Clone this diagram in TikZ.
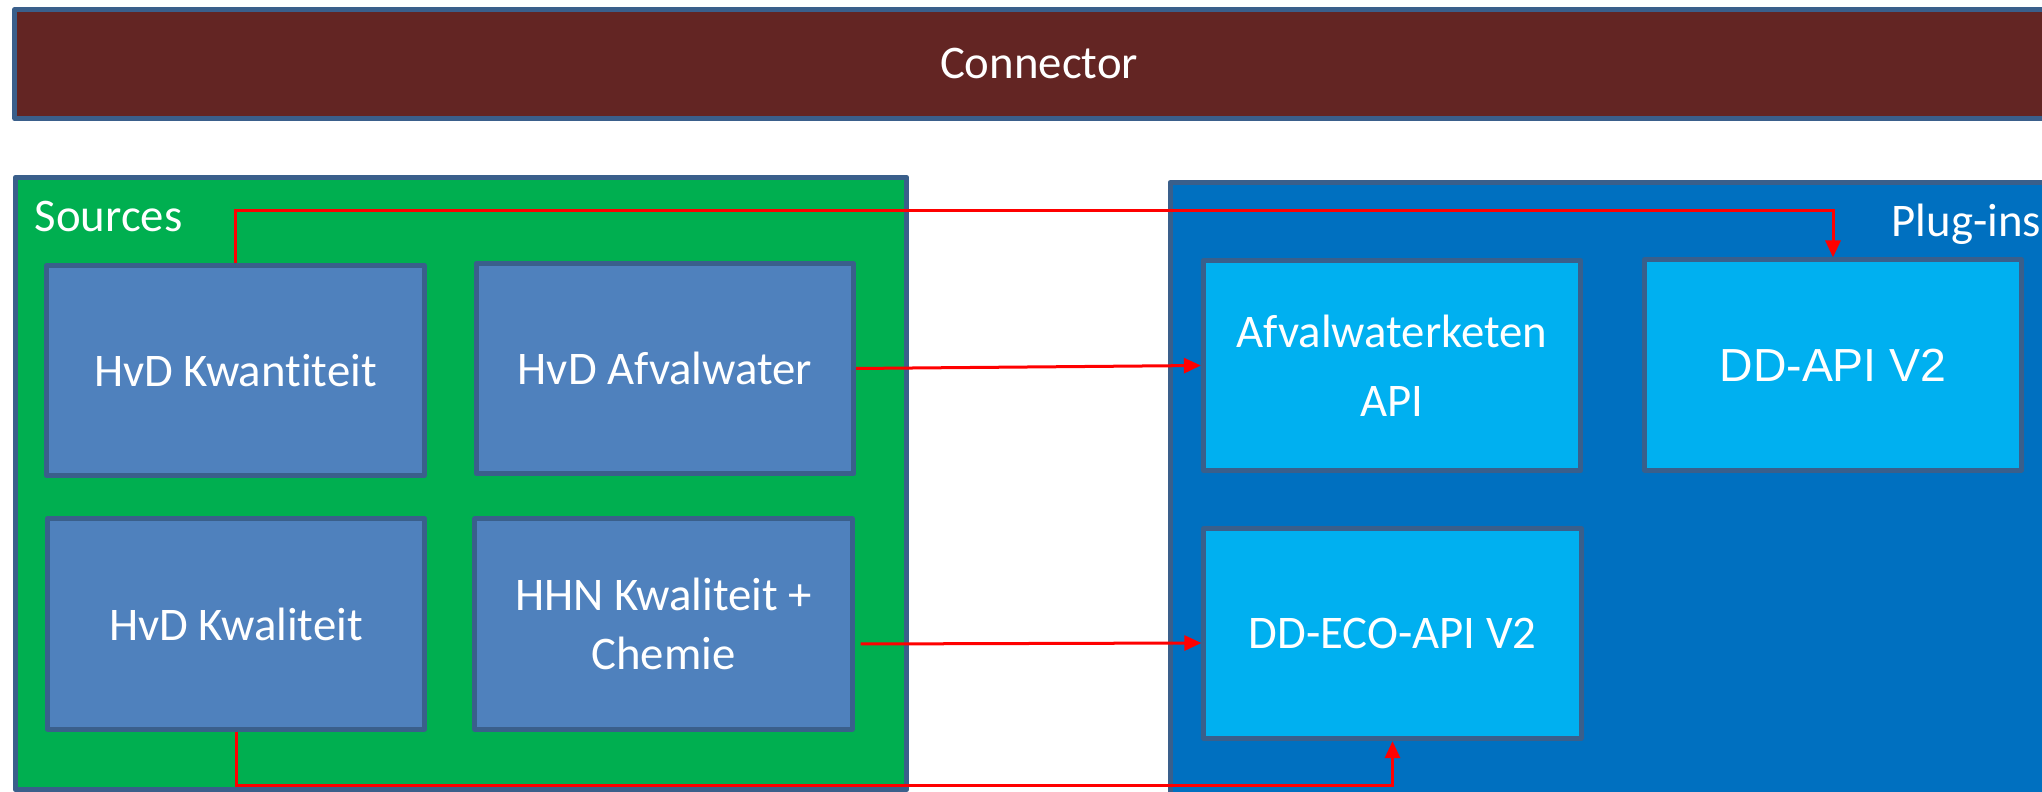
\documentclass[tikz,border=0pt]{standalone}
\usepackage{fontspec}
\setmainfont{Carlito}[Ligatures=NoCommon]
\newfontfamily\arialfont{Liberation Sans}
\usetikzlibrary{arrows.meta,calc}
\definecolor{bordc}{HTML}{3A5F8B}
\definecolor{connc}{HTML}{632523}
\definecolor{srcc}{HTML}{00AF50}
\definecolor{srcbox}{HTML}{4F81BD}
\definecolor{plugc}{HTML}{0070C0}
\definecolor{plugbox}{HTML}{00B0F0}
\definecolor{redc}{HTML}{FF0000}
\begin{document}
\begin{tikzpicture}[x=0.01cm,y=-0.01cm,
  every node/.style={text=white,font=\fontsize{13.3}{16}\selectfont},
  frame/.style={draw=bordc,line width=0.05cm,line join=round,rectangle,inner sep=0pt},
  srcnode/.style={frame,fill=srcbox,minimum width=3.77cm,minimum height=2.10cm,align=center},
  plugnode/.style={frame,fill=plugbox,minimum width=3.77cm,minimum height=2.10cm,align=center},
  arr/.style={draw=redc,line width=0.03cm,-{Triangle[length=0.17cm,width=0.15cm]}},
  lbl/.style={anchor=base west,inner sep=0pt}]
\useasboundingbox (0,0) rectangle (2042,792);
\fill[white] (0,0) rectangle (2042,792);
% big containers
\node[frame,fill=connc,minimum width=20.47cm,minimum height=1.09cm] (conn) at (1039,64) {Connector};
\node[frame,fill=srcc,minimum width=8.91cm,minimum height=6.12cm] (sources) at (461,483.5) {};
\node[frame,fill=plugc,minimum width=11.27cm,minimum height=7.15cm] (plugins) at (1734,540) {};
\node[lbl] (srclbl) at (34,232) {Sources};
\node[lbl] (pluglbl) at (1891,237) {Plug-ins};
% source boxes
\node[srcnode] (kwant) at (235.5,370.5) {HvD Kwantiteit};
\node[srcnode] (afv) at (665,368.5) {HvD Afvalwater};
\node[srcnode] (kwal) at (236,624) {HvD Kwaliteit};
\node[srcnode,font=\fontsize{13.3}{16.6}\selectfont] (hhn) at (663.5,624) {HHN Kwaliteit +\\Chemie};
% plug-in boxes
\node[plugnode,font=\fontsize{13.3}{19.6}\selectfont] (afvk) at (1392,365.5) {Afvalwaterketen\\API};
\node[plugnode,font=\arialfont\fontsize{13.2}{16}\selectfont] (ddapi) at (1833,365) {DD-API V2};
\node[plugnode] (ddeco) at (1392.5,633.5) {DD-ECO-API V2};
% connectors
\coordinate (topy) at (0,211);
\coordinate (boty) at (0,786);
\draw[arr] (kwant.north) -- (kwant.north |- topy) -| (ddapi.north);
\draw[arr] (afv.east) -- (afvk.west);
\draw[arr] ($(hhn.east)+(6,20)$) -- ($(ddeco.west)+(0,9.5)$);
\draw[arr] (kwal.south) -- (kwal.south |- boty) -| (ddeco.south);
\end{tikzpicture}
\end{document}
